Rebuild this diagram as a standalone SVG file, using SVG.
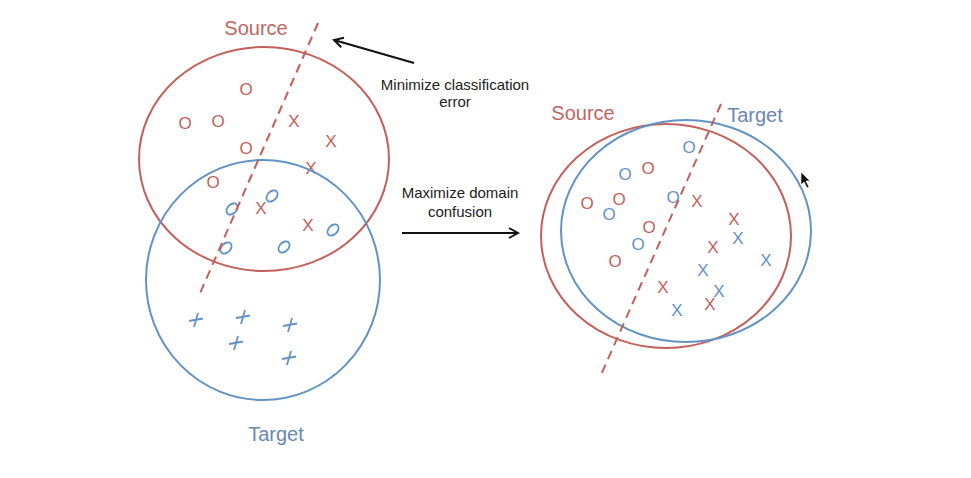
<svg xmlns="http://www.w3.org/2000/svg" width="971" height="478" viewBox="0 0 971 478">
<defs>
<style>
.red{stroke:#c4605a;fill:none;stroke-width:2}
.blue{stroke:#6292c6;fill:none;stroke-width:2}
.dash{stroke:#c4605a;fill:none;stroke-width:2;stroke-dasharray:9 6}
.lbl{font-family:"Liberation Sans",Arial,sans-serif;font-size:20px;text-anchor:middle}
.cap{font-family:"Liberation Sans",Arial,sans-serif;font-size:15px;text-anchor:middle;fill:#222}
.mk{font-family:"Liberation Sans",Arial,sans-serif;font-size:17px;text-anchor:middle;dominant-baseline:central}
.r{fill:#c4605a}
.b{fill:#6292c6}
.rl{fill:#bf6662}
.bl{fill:#6a88b2}
.arr{stroke:#111;stroke-width:2;fill:none}
</style>
<marker id="ah" viewBox="0 0 12 12" refX="10" refY="6" markerWidth="12" markerHeight="12" markerUnits="userSpaceOnUse" orient="auto">
<path d="M1,1 L10,6 L1,11" fill="none" stroke="#111" stroke-width="2"/>
</marker>
</defs>
<rect width="971" height="478" fill="#fff"/>

<g id="left-source">
<ellipse class="red" cx="264" cy="159" rx="125" ry="112"/>
<text class="lbl rl" x="256" y="35">Source</text>
<text class="mk r" x="246" y="89">O</text>
<text class="mk r" x="185" y="123">O</text>
<text class="mk r" x="218" y="121">O</text>
<text class="mk r" x="246" y="148">O</text>
<text class="mk r" x="213" y="182">O</text>
<text class="mk r" x="294" y="121">X</text>
<text class="mk r" x="331" y="141">X</text>
<text class="mk r" x="311" y="168">X</text>
<text class="mk r" x="261" y="208">X</text>
<text class="mk r" x="308" y="225">X</text>
</g>

<g id="left-target">
<ellipse class="blue" cx="263" cy="280" rx="117" ry="120"/>
<text class="lbl bl" x="276" y="441">Target</text>
<g class="blue" style="stroke-width:1.8">
<ellipse cx="232" cy="209" rx="4.5" ry="6.5" transform="rotate(45 232 209)"/>
<ellipse cx="272" cy="196" rx="4.5" ry="6.5" transform="rotate(45 272 196)"/>
<ellipse cx="333" cy="230" rx="4.5" ry="6.5" transform="rotate(45 333 230)"/>
<ellipse cx="226" cy="248" rx="4.5" ry="6.5" transform="rotate(45 226 248)"/>
<ellipse cx="284" cy="247" rx="4.5" ry="6.5" transform="rotate(45 284 247)"/>
<path d="M189,321 L203,318.5 M198,313 L194,327"/>
<path d="M236,318 L250,315.5 M245,310 L241,324"/>
<path d="M283,326 L297,323.5 M292,318 L288,332"/>
<path d="M229,344 L243,341.5 M238,336 L234,350"/>
<path d="M282,359 L296,356.5 M291,351 L287,365"/>
</g>
</g>

<g id="right-source">
<ellipse class="red" cx="666" cy="236" rx="125" ry="112"/>
<text class="lbl rl" x="583" y="120">Source</text>
<text class="mk r" x="648" y="168">O</text>
<text class="mk r" x="587" y="203">O</text>
<text class="mk r" x="619" y="199">O</text>
<text class="mk r" x="649" y="227">O</text>
<text class="mk r" x="615" y="261">O</text>
<text class="mk r" x="697" y="201">X</text>
<text class="mk r" x="734" y="219">X</text>
<text class="mk r" x="713" y="247">X</text>
<text class="mk r" x="663" y="287">X</text>
<text class="mk r" x="710" y="304">X</text>
</g>

<g id="right-target">
<ellipse class="blue" cx="686" cy="231" rx="125" ry="111"/>
<text class="lbl bl" x="755" y="122">Target</text>
<text class="mk b" x="689" y="147">O</text>
<text class="mk b" x="625" y="174">O</text>
<text class="mk b" x="609" y="214">O</text>
<text class="mk b" x="673" y="197">O</text>
<text class="mk b" x="638" y="244">O</text>
<text class="mk b" x="738" y="238">X</text>
<text class="mk b" x="766" y="260">X</text>
<text class="mk b" x="703" y="270">X</text>
<text class="mk b" x="719" y="291">X</text>
<text class="mk b" x="677" y="310">X</text>
</g>

<g id="labels">
<text class="cap" x="455" y="90">Minimize classification</text>
<text class="cap" x="455" y="107">error</text>
<text class="cap" x="460" y="198">Maximize domain</text>
<text class="cap" x="460" y="217">confusion</text>
</g>

<g id="connectors">
<line class="dash" x1="318" y1="23" x2="198" y2="298"/>
<line class="dash" x1="721" y1="104" x2="600" y2="377"/>
<line class="arr" x1="414" y1="63" x2="334" y2="40" marker-end="url(#ah)"/>
<line class="arr" x1="402" y1="233" x2="518" y2="233" marker-end="url(#ah)"/>
</g>

<g id="cursor">
<path d="M801,172 L801,185 L804,182 L807,188 L809,187 L806,181 L810,181 Z" fill="#111" stroke="#fff" stroke-width="0.6"/>
</g>
</svg>
